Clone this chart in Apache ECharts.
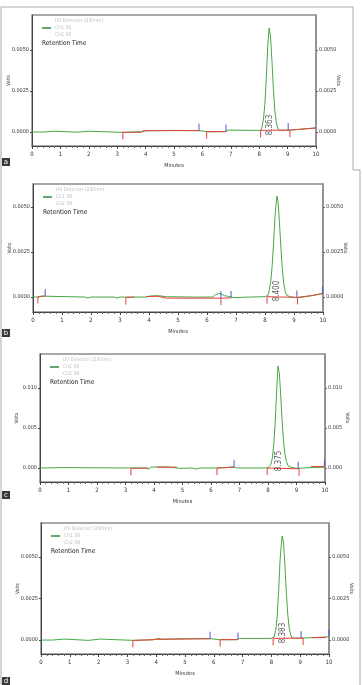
<!DOCTYPE html>
<html>
<head>
<meta charset="utf-8">
<script src="https://cdn.jsdelivr.net/npm/echarts@6/dist/echarts.min.js"></script>
<style>
html,body{margin:0;padding:0;background:#fff}
#main{width:362px;height:685px}
</style>
</head>
<body>
<div id="main"></div>
<script>
// x axis (minutes)
var xTicks = [0, 1, 2, 3, 4, 5, 6, 7, 8, 9, 10];

// panel a
var greenA = [[0,0],[0.4,0],[0.45,0.00005],[0.8,0.00005],[0.85,-0.00001],[1.6,-0.00001],[1.65,0.00005],[2.0,0.00005],[2.05,-0.00002],[3.2,-0.00002],[3.9,0.00002],[4.0,0.00008],[5.0,0.0001],[5.9,0.00008],[6.2,0.00002],[6.8,0.00002],[6.9,0.00012],[7.9,0.0001],[8.05,0.0001],[8.1,0.0003],[8.15,0.0008],[8.2,0.0017],[8.25,0.0033],[8.3,0.0052],[8.35,0.00634],[8.4,0.0058],[8.45,0.0043],[8.5,0.0026],[8.55,0.0013],[8.6,0.0006],[8.65,0.00025],[8.7,0.00012],[8.8,0.0001],[9.1,0.00012],[10,0.00025]];
var redA = [[[3.2,-0.00002],[3.85,-0.00001],[3.9,0.00008],[5.9,0.00009]], [[6.15,0.00002],[6.85,0.00003]], [[8.05,0.0001],[9.1,0.00012]], [[9.1,0.00012],[10,0.00025]]];
var redTicksA = [[3.2,-0.00002],[6.15,0.00002],[8.05,0.0001],[9.08,0.00012]];
var blueTicksA = [[5.88,0.00009],[6.83,0.00003],[9.02,0.00012]];
var peakA = [8.363];
var yTicksA = [0, 0.0025, 0.005];

// panel b
var greenB = [[0,0],[0.15,0],[0.2,0.00005],[0.35,0.00005],[0.4,0],[1.8,0],[1.9,-0.00006],[2.0,0],[2.8,0],[2.9,-0.00006],[3.0,0],[3.9,0],[4.0,0.00005],[4.3,0.00008],[4.6,0.00002],[5.5,0],[6.2,0],[6.3,0.00015],[6.45,0.0002],[6.6,0.00008],[6.8,0.00002],[6.9,-0.00003],[7.5,0],[8.0,0.00002],[8.1,0.0001],[8.15,0.0004],[8.2,0.0009],[8.25,0.0018],[8.3,0.0031],[8.35,0.0046],[8.41,0.00561],[8.45,0.0053],[8.5,0.0041],[8.55,0.0027],[8.6,0.0015],[8.65,0.0007],[8.7,0.0003],[8.75,0.0001],[8.85,0.00002],[9.1,-0.00003],[9.3,0],[9.7,0.0001],[10,0.0002]];
var redB = [[[0.17,0.00003],[0.3,0.00005],[0.42,0.00005]], [[3.2,-0.00003],[3.5,0]], [[3.9,0.00003],[4.3,0.00004],[4.6,-0.00006],[6.48,-0.00006]], [[6.48,-0.00006],[6.83,-0.00005]], [[8.07,0.00002],[9.12,-0.00002]], [[9.12,-0.00002],[9.6,0.00008],[10,0.0002]]];
var redTicksB = [[0.17,0.00003],[3.2,-0.00003],[6.48,-0.00006],[8.07,0.00002],[9.12,-0.00002]];
var blueTicksB = [[0.42,0.00005],[6.48,-0.00006],[6.83,-0.00005],[9.1,-0.00002],[9.98,0.0002]];
var peakB = [8.400];
var yTicksB = [0, 0.0025, 0.005];

// panel c
var greenC = [[0,0],[0.85,0.00005],[0.9,0],[3.2,0],[3.7,0],[3.8,-0.00015],[3.9,0.0001],[4.2,0.00015],[4.6,0.0001],[4.9,-0.00005],[5.3,0],[5.5,-0.00012],[5.6,0],[6.2,0],[6.5,0.00005],[6.8,0.00015],[6.9,0],[7.9,0],[8.0,0.00005],[8.1,0.0004],[8.15,0.0012],[8.2,0.0028],[8.25,0.0055],[8.3,0.0094],[8.35,0.01275],[8.4,0.0118],[8.45,0.0088],[8.5,0.0056],[8.55,0.0031],[8.6,0.0016],[8.65,0.0008],[8.7,0.0003],[8.8,0.0001],[9.0,-0.00005],[9.2,0],[10,0.0001]];
var redC = [[[3.2,-0.00005],[3.8,0]], [[4.1,0.0001],[4.8,0.0001]], [[6.21,0],[6.81,0.0001]], [[7.97,0],[9.08,-0.0001]], [[9.5,0.0002],[10,0.0002]]];
var redTicksC = [[3.19,-0.00005],[6.21,0],[7.97,0],[9.09,-0.0001]];
var blueTicksC = [[6.81,0.0001],[9.06,-0.0001],[9.98,0.0002]];
var peakC = [8.375];
var yTicksC = [0, 0.005, 0.010];

// panel d
var greenD = [[0,0],[0.4,0],[0.45,0.00006],[0.8,0.00006],[0.85,-0.00002],[1.65,-0.00002],[1.7,0.00006],[2.05,0.00006],[2.1,-0.00002],[3.2,-0.00002],[3.9,0.00002],[4.0,0.00006],[4.1,0.0001],[4.2,0.00005],[5.0,0.00008],[5.9,0.00008],[6.2,0.00002],[6.8,0.00002],[6.9,0.0001],[8.0,0.0001],[8.1,0.0002],[8.15,0.0006],[8.2,0.0014],[8.25,0.0029],[8.3,0.0048],[8.37,0.00627],[8.42,0.0059],[8.47,0.0045],[8.52,0.0028],[8.57,0.0015],[8.62,0.0007],[8.67,0.0003],[8.72,0.00014],[8.8,0.0001],[9.1,0.00012],[9.5,0.00015],[10,0.0002]];
var redD = [[[3.2,-0.00002],[3.9,0.00002]], [[3.9,0.00004],[5.88,0.00008]], [[6.22,0.00002],[6.84,0.00003]], [[8.06,0.0001],[9.1,0.00012]], [[9.4,0.00015],[9.9,0.00015]]];
var redTicksD = [[3.19,-0.00002],[6.22,0.00002],[8.06,0.0001],[9.1,0.00012]];
var blueTicksD = [[5.87,0.00008],[6.84,0.00003],[9.03,0.00012],[10,0.0002]];
var peakD = [8.383];
var yTicksD = [0, 0.0025, 0.005];

var panels = [
  {letter: 'a', left: 32, top: 15, width: 284, height: 131, min: -0.00085, max: 0.00713, yTicks: yTicksA, digits: 4, green: greenA, red: redA, redTicks: redTicksA, blueTicks: blueTicksA, peak: peakA, labelDy: 7, box: 158},
  {letter: 'b', left: 33, top: 184, width: 290, height: 128, min: -0.00083, max: 0.00628, yTicks: yTicksB, digits: 4, green: greenB, red: redB, redTicks: redTicksB, blueTicks: blueTicksB, peak: peakB, labelDy: 6, box: 329},
  {letter: 'c', left: 40, top: 354, width: 285, height: 128, min: -0.00175, max: 0.01425, yTicks: yTicksC, digits: 3, green: greenC, red: redC, redTicks: redTicksC, blueTicks: blueTicksC, peak: peakC, labelDy: 7, box: 491},
  {letter: 'd', left: 41, top: 523, width: 288, height: 131, min: -0.00084, max: 0.00705, yTicks: yTicksD, digits: 4, green: greenD, red: redD, redTicks: redTicksD, blueTicks: blueTicksD, peak: peakD, labelDy: 7, box: 677}
];

var FONT = "'Liberation Sans Narrow', 'DejaVu Sans Condensed', 'Liberation Sans', sans-serif";

var grids = [], xAxes = [], yAxes = [], series = [], graphic = [];

function tickSeries(i, data, color, dir) {
  return {
    type: 'custom', xAxisIndex: i, yAxisIndex: 2 * i, data: data, silent: true, z: 5,
    renderItem: function (params, api) {
      var p = api.coord([api.value(0), api.value(1)]);
      return {type: 'line', shape: {x1: p[0], y1: p[1], x2: p[0], y2: p[1] + dir * 7},
        style: {stroke: color, lineWidth: 1}};
    }
  };
}

panels.forEach(function (p, i) {
  grids.push({left: p.left, top: p.top, width: p.width, height: p.height, show: true,
    containLabel: false, outerBoundsMode: 'none',
    borderColor: '#8c8c8c', borderWidth: 1.5, backgroundColor: 'transparent'});
  xAxes.push({
    type: 'value', gridIndex: i, min: 0, max: 10, interval: 1,
    name: 'Minutes', nameLocation: 'middle', nameGap: 17, nameMoveOverlap: false,
    nameTextStyle: {fontSize: 5.5, color: '#333', fontFamily: FONT},
    axisLine: {onZero: false, lineStyle: {color: '#444', width: 1}},
    axisTick: {length: 3, lineStyle: {color: '#444'}},
    minorTick: {show: true, splitNumber: 5, length: 2, lineStyle: {color: '#666'}},
    axisLabel: {fontSize: 6, color: '#333', fontFamily: FONT, margin: 5,
      customValues: xTicks},
    splitLine: {show: false}
  });
  var fmt = function (v) { return v.toFixed(p.digits); };
  yAxes.push({
    type: 'value', gridIndex: i, position: 'left', min: p.min, max: p.max,
    name: 'Volts', nameLocation: 'middle', nameGap: 21, nameMoveOverlap: false,
    nameTextStyle: {fontSize: 5, color: '#333', fontFamily: FONT},
    axisLine: {show: true, onZero: false, lineStyle: {color: '#444', width: 1}},
    axisTick: {show: true, length: 2, customValues: p.yTicks, lineStyle: {color: '#444'}},
    axisLabel: {fontSize: 5.5, color: '#333', fontFamily: FONT, margin: 3,
      customValues: p.yTicks, formatter: fmt},
    splitLine: {show: false}
  });
  yAxes.push({
    type: 'value', gridIndex: i, position: 'right', min: p.min, max: p.max,
    name: 'Volts', nameLocation: 'middle', nameGap: 20, nameRotate: -90, nameMoveOverlap: false,
    nameTextStyle: {fontSize: 5, color: '#333', fontFamily: FONT},
    axisLine: {show: true, onZero: false, lineStyle: {color: '#8c8c8c', width: 1.5}},
    axisTick: {show: true, length: 2, customValues: p.yTicks, lineStyle: {color: '#666'}},
    axisLabel: {fontSize: 5.5, color: '#333', fontFamily: FONT, margin: 3,
      customValues: p.yTicks, formatter: fmt},
    splitLine: {show: false}
  });

  series.push({
    type: 'line', xAxisIndex: i, yAxisIndex: 2 * i, data: p.green,
    showSymbol: false, silent: true, z: 2,
    lineStyle: {color: '#45a845', width: 1}
  });
  series.push({
    type: 'lines', coordinateSystem: 'cartesian2d', xAxisIndex: i, yAxisIndex: 2 * i,
    polyline: true, silent: true, z: 3,
    data: p.red.map(function (seg) { return {coords: seg}; }),
    lineStyle: {color: '#e8403a', width: 1, opacity: 1}
  });
  series.push(tickSeries(i, p.redTicks, '#e8403a', 1));
  series.push(tickSeries(i, p.blueTicks, '#4a5ad8', -1));
  // offset is in the rotated label frame: first component moves the text up
  series.push({
    type: 'scatter', xAxisIndex: i, yAxisIndex: 2 * i, silent: true, z: 6,
    symbolSize: 0,
    data: p.peak.map(function (rt) { return [rt, 0]; }),
    label: {show: true, position: 'inside', rotate: 90, offset: [p.labelDy, 0],
      fontSize: 8, color: '#333', fontFamily: FONT,
      formatter: function (d) { return d.value[0].toFixed(3); }}
  });

  // legend block inside the plot
  var lx = p.left + 10, ly = p.top;
  graphic.push({type: 'text', left: lx + 13, top: ly + 3, silent: true,
    style: {text: 'UV Detector (230nm)', fontSize: 5, fill: '#bdbdbd', fontFamily: FONT}});
  graphic.push({type: 'line', silent: true,
    shape: {x1: lx, y1: ly + 13, x2: lx + 9, y2: ly + 13},
    style: {stroke: '#2e8b3e', lineWidth: 1.5}});
  graphic.push({type: 'text', left: lx + 13, top: ly + 10, silent: true,
    style: {text: 'Ch1 38', fontSize: 5, fill: '#bdbdbd', fontFamily: FONT}});
  graphic.push({type: 'text', left: lx + 13, top: ly + 17, silent: true,
    style: {text: 'Ch2 38', fontSize: 5, fill: '#bdbdbd', fontFamily: FONT}});
  graphic.push({type: 'text', left: lx, top: ly + 25, silent: true,
    style: {text: 'Retention Time', fontSize: 6.5, fill: '#222', fontFamily: FONT}});

  // panel letter
  graphic.push({type: 'rect', silent: true, shape: {x: 2, y: p.box, width: 8, height: 8},
    style: {fill: '#3a3a3a'}});
  graphic.push({type: 'text', silent: true, x: 6, y: p.box + 4,
    style: {text: p.letter, fontSize: 7, fill: '#fff', fontFamily: 'DejaVu Sans',
      align: 'center', verticalAlign: 'middle'}});
});

// outer frame
graphic.push({type: 'polyline', silent: true,
  shape: {points: [[1, 685], [1, 7], [353, 7], [353, 170], [360, 170], [360, 685]]},
  style: {stroke: '#aaaaaa', lineWidth: 1, fill: null}});

var chart = echarts.init(document.getElementById('main'));
chart.setOption({
  animation: false,
  backgroundColor: '#fff',
  grid: grids,
  xAxis: xAxes,
  yAxis: yAxes,
  series: series,
  graphic: graphic
});
</script>
</body>
</html>
